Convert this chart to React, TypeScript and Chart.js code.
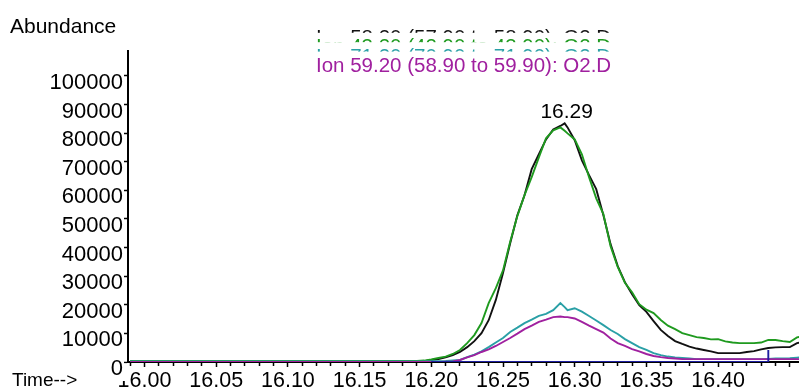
import React, { useEffect, useRef } from "react";
import { Chart, registerables } from "chart.js";

Chart.register(...registerables);

// Retention time (min) shared by the four extracted-ion traces
const times = [
  15.99, 16.04, 16.09, 16.14, 16.19,
  16.195, 16.2, 16.205, 16.21, 16.215, 16.22, 16.225, 16.23, 16.235, 16.24,
  16.245, 16.25, 16.255, 16.26, 16.265, 16.27, 16.275, 16.28, 16.285, 16.29,
  16.293,
  16.295, 16.3, 16.305, 16.31, 16.315, 16.32, 16.325, 16.33, 16.335, 16.34,
  16.345, 16.35, 16.355, 16.36, 16.365, 16.37, 16.375, 16.38, 16.385, 16.39,
  16.395, 16.4, 16.405, 16.41, 16.415, 16.42, 16.425, 16.43, 16.435, 16.44,
  16.445, 16.45, 16.455, 16.46,
];

const ion58 = [
  150, 150, 150, 150, 200,
  300, 700, 1000, 1600, 2400, 3500, 5200, 7300, 10100, 14600,
  21700, 31100, 41500, 51300, 58300, 67400, 72600, 77800, 81300, 82500,
  83400,
  82000, 77500, 70500, 65300, 60400, 51300, 41200, 33500, 27900, 23700,
  19900, 17500, 14300, 11200, 9100, 7300, 6300, 5400, 4700, 4200,
  3700, 3100, 3100, 3100, 3100, 3500, 3800, 4400, 4900, 5100,
  5200, 5200, 6600, 7000,
];

const ion43 = [
  400, 400, 400, 400, 400,
  500, 900, 1400, 1900, 2800, 4200, 6600, 9400, 13600, 20600,
  25800, 32000, 42000, 51000, 58300, 64600, 71500, 78200, 81000, 82000,
  80800,
  79900, 77800, 72600, 64600, 57200, 51700, 40500, 33200, 27700, 24400,
  20200, 18300, 17100, 14700, 12700, 11500, 10100, 9400, 8700, 8400,
  7900, 8000, 7200, 6800, 6600, 6600, 6600, 6800, 7700, 7700,
  7300, 7000, 8600, 9100,
];

const ion71 = [
  200, 200, 200, 200, 200,
  200, 250, 300, 350, 500, 700, 1700, 2600, 3700, 5200,
  6800, 8400, 10500, 12000, 13600, 14800, 16100, 16800, 18100, 20600,
  19200,
  18100, 18800, 17600, 16100, 14500, 12900, 11200, 9800, 8000, 6600,
  5200, 4200, 3100, 2400, 1900, 1600, 1400, 1200, 1000, 1000,
  1000, 1000, 1000, 1000, 1000, 1000, 1000, 1000, 1100, 1200,
  1200, 1300, 1500, 1700,
];

const ion59 = [
  0, 0, 0, 0, 0,
  0, 0, 50, 100, 200, 700, 1600, 2400, 3500, 4400,
  5600, 7000, 8400, 9900, 11500, 12700, 14000, 14800, 15700, 15900,
  15700,
  15700, 15200, 14000, 12700, 11500, 10300, 8200, 6600, 5600, 4500,
  3700, 2800, 2100, 1700, 1400, 1200, 1000, 1000, 1000, 1000,
  1000, 1000, 1000, 1000, 1000, 1000, 1000, 1000, 1000, 1000,
  1000, 1000, 1000, 1000,
];

// Integration baseline with its end marker
const baselineTimes = [16.2, 16.435, 16.435];
const baselineValues = [0, 0, 4200];

// Apex of the main peak
const peakTime = 16.293;
const peakValue = 83400;

const ionLabels = [
  "Ion 58.20 (57.90 to 58.90): O2.D",
  "Ion 43.20 (42.90 to 43.90): O2.D",
  "Ion 71.20 (70.90 to 71.90): O2.D",
  "Ion 59.20 (58.90 to 59.90): O2.D",
];
const ionColors = ["#111111", "#1f9a1f", "#2aa0a6", "#a0209f"];
const baselineColor = "#1e1ea0";

const yTickValues = [0, 10000, 20000, 30000, 40000, 50000, 60000, 70000, 80000, 90000, 100000];
const xTickLabels = ["16.00", "16.05", "16.10", "16.15", "16.20", "16.25", "16.30", "16.35", "16.40"];

const FONT = '"Liberation Sans", Arial, sans-serif';

const pts = (xs: number[], ys: number[]) => xs.map((x, i) => ({ x, y: ys[i] }));

// Hundredths of a minute for the time-axis tick marks
const xTickHundredths: number[] = [];
for (let h = 1599; h <= 1645; h++) xTickHundredths.push(h);

// The abundance-axis label box sits on top of the first time label
const labelBoxPlugin = {
  id: "labelBox",
  beforeDatasetsDraw(chart: any) {
    const ctx = chart.ctx;
    const ys = chart.scales.y;
    const top = ys.getPixelForValue(0) + 1.5;
    ctx.save();
    ctx.fillStyle = "#fff";
    ctx.fillRect(100, top, ys.right - 100.8, 17.5);
    ctx.restore();
  },
};

const overlayPlugin = {
  id: "overlay",
  afterDraw(chart: any) {
    const ctx = chart.ctx;
    const xs = chart.scales.x;
    const ys = chart.scales.y;
    ctx.save();
    ctx.font = `21px ${FONT}`;
    ctx.textBaseline = "alphabetic";
    ctx.textAlign = "left";
    ctx.fillStyle = "#000";
    ctx.fillText("Abundance", 10, 33);
    ctx.font = `19px ${FONT}`;
    ctx.fillText("Time-->", 12, 386);

    // stacked ion legend, each line painted over the one above
    ctx.font = `20.5px ${FONT}`;
    const lx = 316;
    const firstBase = 44;
    const step = 9.4;
    ionLabels.forEach((label, i) => {
      const base = firstBase + i * step;
      ctx.fillStyle = "#fff";
      ctx.fillRect(lx - 4, base - 20.6, 330, 27);
      ctx.fillStyle = ionColors[i];
      ctx.fillText(label, lx, base);
    });

    // apex retention time
    const px = xs.getPixelForValue(peakTime);
    const py = ys.getPixelForValue(peakValue);
    ctx.font = `21px ${FONT}`;
    ctx.fillStyle = "#000";
    ctx.textAlign = "center";
    ctx.fillText(peakTime.toFixed(2), px + 2, py - 5.5);
    ctx.restore();
  },
};

export default function App() {
  const ref = useRef<HTMLCanvasElement>(null);

  useEffect(() => {
    const lineStyle = (color: string) => ({
      borderColor: color,
      backgroundColor: color,
      borderWidth: 1.9,
      pointRadius: 0,
      tension: 0,
      fill: false,
    });

    const chart = new Chart(ref.current as HTMLCanvasElement, {
      type: "line",
      data: {
        datasets: [
          { label: "baseline", data: pts(baselineTimes, baselineValues), ...lineStyle(baselineColor) },
          { label: ionLabels[3], data: pts(times, ion59), ...lineStyle(ionColors[3]) },
          { label: ionLabels[2], data: pts(times, ion71), ...lineStyle(ionColors[2]) },
          { label: ionLabels[1], data: pts(times, ion43), ...lineStyle(ionColors[1]) },
          { label: ionLabels[0], data: pts(times, ion58), ...lineStyle(ionColors[0]) },
        ],
      },
      options: {
        responsive: false,
        devicePixelRatio: 1,
        animation: false,
        layout: { padding: { top: 51, right: 0, bottom: 0, left: 0 } },
        plugins: { legend: { display: false }, tooltip: { enabled: false } },
        font: { family: FONT },
        scales: {
          x: {
            type: "linear",
            min: 15.9885,
            max: 16.4564,
            afterBuildTicks: (s: any) => {
              s.ticks = xTickHundredths.map((h) => ({ value: h / 100, major: h % 5 === 0 }));
            },
            afterFit: (s: any) => {
              s.height = 29;
            },
            border: { display: true, color: "#000", width: 2 },
            grid: {
              drawOnChartArea: false,
              drawTicks: true,
              tickLength: 5,
              tickColor: "#000",
              tickWidth: 1.5,
              tickBorderDash: (c: any) => (c.tick && c.tick.major ? [] : [3, 100]),
            },
            ticks: {
              autoSkip: false,
              maxRotation: 0,
              minRotation: 0,
              padding: 1,
              color: "#000",
              font: { family: FONT, size: 21.5 },
              callback: (v: any) => {
                const s = Number(v).toFixed(2);
                return xTickLabels.includes(s) ? s : "";
              },
            },
          },
          y: {
            type: "linear",
            min: 0,
            max: 108700,
            afterBuildTicks: (s: any) => {
              s.ticks = yTickValues.map((v) => ({ value: v }));
            },
            afterFit: (s: any) => {
              s.width = 128;
            },
            border: { display: true, color: "#000", width: 2 },
            grid: {
              drawOnChartArea: false,
              drawTicks: true,
              tickLength: 4,
              tickColor: "#000",
              tickWidth: 1.5,
            },
            ticks: {
              z: 1,
              padding: 1,
              labelOffset: 7,
              color: "#000",
              font: { family: FONT, size: 22 },
              callback: (v: any) => String(v),
            },
          },
        },
      } as any,
      plugins: [labelBoxPlugin, overlayPlugin],
    });
    return () => chart.destroy();
  }, []);

  return (
    <div style={{ position: "fixed", left: 0, top: 0, width: 799, height: 391, background: "#fff" }}>
      <canvas ref={ref} width={799} height={391} style={{ display: "block" }} />
    </div>
  );
}
